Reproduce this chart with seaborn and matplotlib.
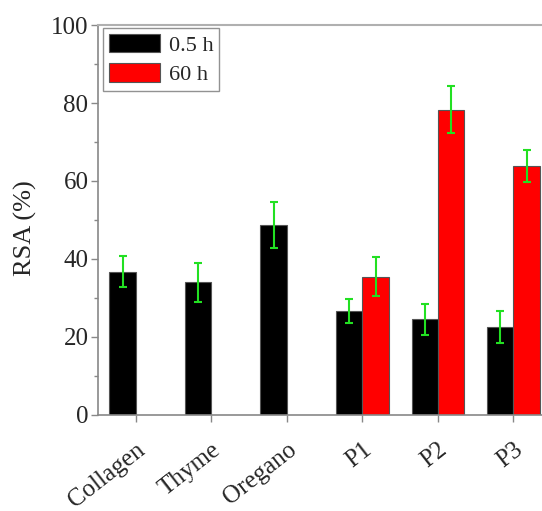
import numpy as np
import pandas as pd
import matplotlib
matplotlib.use("Agg")
import matplotlib.pyplot as plt
import matplotlib.colors as mcolors
from matplotlib import font_manager as fm
import seaborn as sns

categories = ["Collagen", "Thyme", "Oregano", "P1", "P2", "P3"]
series_names = ["0.5 h", "60 h"]
rsa_05h = [36.7, 34.0, 48.7, 26.7, 24.5, 22.6]
err_05h = [4.0, 5.0, 6.0, 3.0, 4.0, 4.1]
rsa_60h = [np.nan, np.nan, np.nan, 35.5, 78.3, 63.8]
err_60h = [np.nan, np.nan, np.nan, 5.0, 6.0, 4.1]
y_ticks = [0, 20, 40, 60, 80, 100]
colors = ["#000000", "#ff0000"]

sns.set_style("ticks")

# locate a Times-like serif font
serif_name = None
for f in fm.findSystemFonts():
    base = f.split("/")[-1].lower()
    if base.startswith("liberationserif-regular"):
        try:
            fm.fontManager.addfont(f)
            serif_name = fm.FontProperties(fname=f).get_name()
        except Exception:
            pass
        break
fams = ([serif_name] if serif_name else []) + ["Liberation Serif", "DejaVu Serif"]
plt.rcParams["font.family"] = fams

df = pd.DataFrame({
    "cat": categories * 2,
    "series": [series_names[0]] * 6 + [series_names[1]] * 6,
    "val": rsa_05h + rsa_60h,
    "err": err_05h + err_60h,
})

fig = plt.figure(figsize=(5.42, 5.11), dpi=100)
ax = fig.add_axes([0.181, 0.188, 0.836, 0.763])

sns.barplot(data=df, x="cat", y="val", hue="series", order=categories,
            hue_order=series_names, palette=colors, saturation=1,
            width=0.7, edgecolor="#555555", linewidth=0.8, errorbar=None,
            ax=ax, legend=True)

# error bars matched to bars (series found from bar colour)
lookup = {(c, s): e for c, s, e in zip(df["cat"], df["series"], df["err"])}
for bar in list(ax.patches):
    h = bar.get_height()
    if not np.isfinite(h) or h == 0:
        continue
    fc = mcolors.to_hex(bar.get_facecolor())
    si = 0 if fc == "#000000" else 1
    xc = bar.get_x() + bar.get_width() / 2
    ci = int(round(xc))
    if ci < 0 or ci >= len(categories):
        continue
    e = lookup.get((categories[ci], series_names[si]), np.nan)
    if np.isfinite(e):
        ax.errorbar(xc, h, yerr=e, fmt="none", ecolor="#22e022",
                    elinewidth=1.5, capsize=3, capthick=1.5, zorder=5)

ax.set_ylim(0, 100)
ax.set_xlim(-0.5, 5.5)
ax.set_yticks(y_ticks)
ax.set_yticks(np.arange(10, 100, 20), minor=True)
ax.set_xlabel("")
ax.set_ylabel("RSA (%)", fontsize=19)
ax.yaxis.set_label_coords(-0.135, 0.48)
ax.tick_params(axis="both", which="major", direction="out", length=5,
               width=1, color="#888888", labelsize=18)
ax.tick_params(axis="x", pad=12)
ax.tick_params(axis="y", pad=2)
ax.tick_params(axis="y", which="minor", direction="out", length=3,
               width=1, color="#888888")
plt.setp(ax.get_xticklabels(), rotation=38, ha="right", rotation_mode="anchor")
ax.spines["right"].set_visible(False)
for sp in ["left", "bottom"]:
    ax.spines[sp].set_color("#888888")
    ax.spines[sp].set_linewidth(1.2)
ax.spines["top"].set_color("#b0b0b0")
ax.spines["top"].set_linewidth(1.5)

leg = ax.legend(loc="upper left", bbox_to_anchor=(0.011, 0.992), fontsize=16,
                frameon=True, fancybox=False, handlelength=2.3,
                handleheight=0.9, borderpad=0.25, labelspacing=0.35,
                handletextpad=0.4, borderaxespad=0.0)
leg.get_frame().set_edgecolor("#777777")
leg.get_frame().set_linewidth(1.0)
leg.set_title(None)

fig.savefig("out.png", dpi=100)
